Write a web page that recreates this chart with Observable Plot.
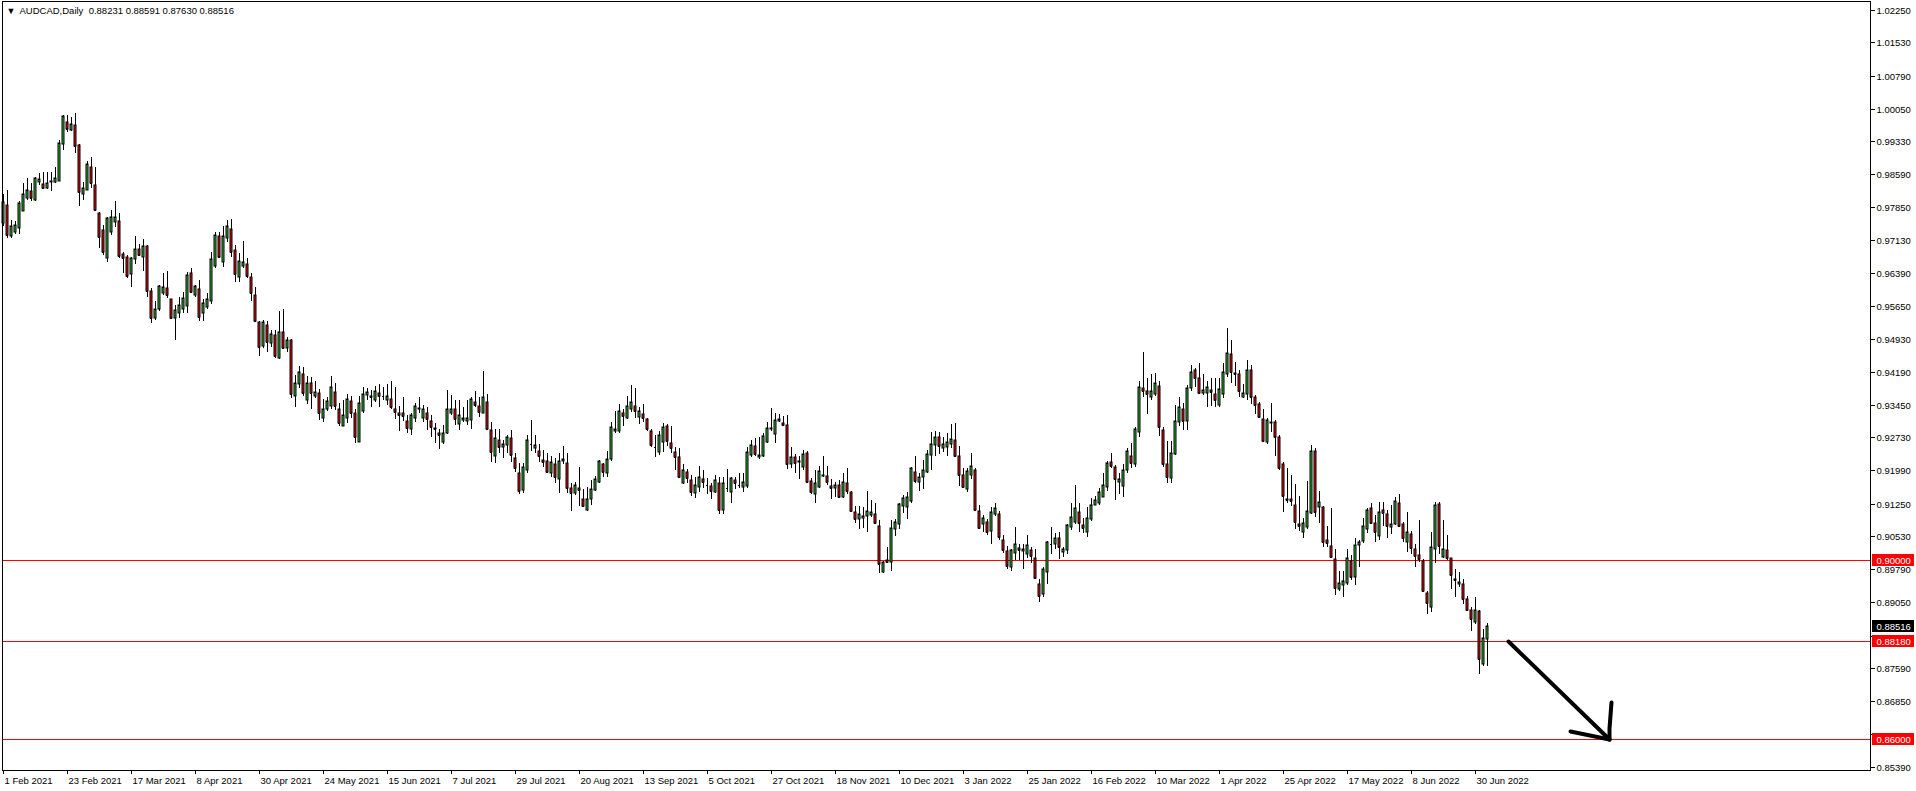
<!DOCTYPE html>
<html><head><meta charset="utf-8">
<script src="https://cdn.jsdelivr.net/npm/d3@7"></script>
<script src="https://cdn.jsdelivr.net/npm/@observablehq/plot@0.6"></script>
<style>
html,body{margin:0;padding:0;background:#fff;}
#chart{width:1916px;height:791px;overflow:hidden;}
</style></head><body><div id="chart"></div>
<script>
const symbolName = "AUDCAD,Daily";
const open = [
0.9750,0.9790,0.9722,0.9730,0.9740,0.9778,0.9807,0.9822,0.9802,0.9842,
0.9837,0.9828,0.9841,0.9841,0.9845,0.9926,0.9975,0.9958,0.9969,0.9924,
0.9815,0.9825,0.9875,0.9835,0.9772,0.9734,0.9672,0.9731,0.9753,0.9756,
0.9682,0.9674,0.9636,0.9670,0.9692,0.9675,0.9699,0.9599,0.9538,0.9558,
0.9595,0.9606,0.9580,0.9538,0.9551,0.9558,0.9566,0.9638,0.9591,0.9603,
0.9551,0.9564,0.9577,0.9655,0.9721,0.9664,0.9716,0.9737,0.9690,0.9631,
0.9655,0.9660,0.9630,0.9591,0.9530,0.9477,0.9524,0.9482,0.9501,0.9450,
0.9508,0.9472,0.9489,0.9365,0.9392,0.9415,0.9355,0.9395,0.9365,0.9371,
0.9317,0.9337,0.9343,0.9373,0.9337,0.9297,0.9317,0.9353,0.9326,0.9263,
0.9332,0.9368,0.9366,0.9357,0.9372,0.9366,0.9356,0.9358,0.9337,0.9326,
0.9326,0.9309,0.9291,0.9317,0.9335,0.9315,0.9326,0.9309,0.9294,0.9282,
0.9262,0.9283,0.9328,0.9337,0.9302,0.9311,0.9310,0.9311,0.9352,0.9342,
0.9328,0.9351,0.9289,0.9231,0.9267,0.9252,0.9255,0.9271,0.9226,0.9193,
0.9155,0.9199,0.9257,0.9248,0.9242,0.9222,0.9221,0.9193,0.9213,0.9179,
0.9220,0.9216,0.9159,0.9148,0.9159,0.9135,0.9111,0.9135,0.9155,0.9174,
0.9213,0.9193,0.9224,0.9288,0.9287,0.9326,0.9315,0.9335,0.9343,0.9319,
0.9325,0.9313,0.9288,0.9252,0.9241,0.9263,0.9297,0.9260,0.9240,0.9229,
0.9172,0.9196,0.9178,0.9148,0.9163,0.9179,0.9167,0.9164,0.9152,0.9172,
0.9112,0.9160,0.9150,0.9178,0.9166,0.9163,0.9164,0.9233,0.9254,0.9228,
0.9231,0.9263,0.9291,0.9280,0.9309,0.9305,0.9301,0.9213,0.9228,0.9218,
0.9206,0.9239,0.9176,0.9146,0.9163,0.9187,0.9187,0.9164,0.9159,0.9167,
0.9139,0.9170,0.9151,0.9106,0.9090,0.9092,0.9098,0.9100,0.9103,0.9075,
0.8973,0.9000,0.8996,0.9068,0.9080,0.9120,0.9118,0.9132,0.9196,0.9174,
0.9184,0.9196,0.9233,0.9256,0.9274,0.9248,0.9252,0.9257,0.9268,0.9231,
0.9190,0.9157,0.9190,0.9201,0.9108,0.9080,0.9084,0.9065,0.9101,0.9103,
0.9045,0.9019,0.8984,0.9016,0.9027,0.9020,0.9014,0.9022,0.9005,0.8945,
0.8924,0.8973,0.9035,0.9035,0.9048,0.9018,0.9022,0.9072,0.9085,0.9107,
0.9077,0.9062,0.9090,0.9123,0.9126,0.9141,0.9163,0.9217,0.9207,0.9174,
0.9164,0.9200,0.9231,0.9213,0.9285,0.9383,0.9376,0.9362,0.9369,0.9387,
0.9289,0.9213,0.9183,0.9236,0.9308,0.9337,0.9310,0.9382,0.9423,0.9404,
0.9371,0.9372,0.9378,0.9369,0.9346,0.9369,0.9415,0.9459,0.9416,0.9415,
0.9362,0.9369,0.9423,0.9362,0.9347,0.9314,0.9263,0.9304,0.9306,0.9274,
0.9213,0.9135,0.9135,0.9123,0.9079,0.9062,0.9072,0.9105,0.9242,0.9117,
0.9117,0.9044,0.9031,0.9001,0.8934,0.8944,0.8949,0.8997,0.8961,0.9033,
0.9042,0.9068,0.9115,0.9081,0.9053,0.9111,0.9103,0.9072,0.9080,0.9126,
0.9080,0.9040,0.9057,0.9025,0.9010,0.8997,0.8925,0.8894,0.9023,0.9124,
0.9007,0.9022,0.9003,0.8958,0.8947,0.8946,0.8912,0.8888,0.8862,0.8886,
0.8768,0.88231];
const high = [
0.9816,0.9825,0.9757,0.9755,0.9799,0.9839,0.9850,0.9839,0.9854,0.9861,
0.9863,0.9863,0.9865,0.9876,0.9935,0.9991,0.9990,0.9987,0.9995,0.9926,
0.9842,0.9888,0.9898,0.9876,0.9774,0.9746,0.9764,0.9779,0.9799,0.9772,
0.9686,0.9679,0.9674,0.9721,0.9703,0.9715,0.9701,0.9606,0.9576,0.9612,
0.9638,0.9643,0.9581,0.9568,0.9586,0.9597,0.9642,0.9651,0.9612,0.9623,
0.9581,0.9594,0.9685,0.9731,0.9730,0.9744,0.9757,0.9759,0.9701,0.9683,
0.9711,0.9672,0.9640,0.9608,0.9532,0.9534,0.9532,0.9512,0.9512,0.9554,
0.9558,0.9497,0.9491,0.9412,0.9432,0.9430,0.9410,0.9408,0.9398,0.9381,
0.9358,0.9363,0.9410,0.9393,0.9350,0.9356,0.9369,0.9365,0.9337,0.9365,
0.9386,0.9382,0.9378,0.9388,0.9392,0.9386,0.9391,0.9398,0.9384,0.9343,
0.9362,0.9323,0.9326,0.9350,0.9362,0.9345,0.9340,0.9323,0.9304,0.9291,
0.9300,0.9378,0.9367,0.9357,0.9355,0.9340,0.9356,0.9362,0.9376,0.9363,
0.9421,0.9369,0.9308,0.9291,0.9291,0.9268,0.9279,0.9289,0.9237,0.9215,
0.9216,0.9278,0.9311,0.9277,0.9258,0.9245,0.9237,0.9231,0.9226,0.9237,
0.9253,0.9237,0.9172,0.9174,0.9207,0.9157,0.9163,0.9178,0.9187,0.9222,
0.9216,0.9242,0.9306,0.9332,0.9347,0.9335,0.9364,0.9390,0.9383,0.9341,
0.9347,0.9317,0.9291,0.9278,0.9287,0.9304,0.9302,0.9297,0.9251,0.9248,
0.9213,0.9202,0.9189,0.9185,0.9208,0.9200,0.9182,0.9170,0.9189,0.9184,
0.9184,0.9202,0.9184,0.9184,0.9194,0.9194,0.9252,0.9268,0.9271,0.9274,
0.9283,0.9306,0.9338,0.9328,0.9325,0.9320,0.9323,0.9251,0.9236,0.9231,
0.9245,0.9243,0.9182,0.9200,0.9209,0.9231,0.9209,0.9179,0.9174,0.9178,
0.9193,0.9204,0.9154,0.9120,0.9120,0.9118,0.9154,0.9133,0.9126,0.9089,
0.8998,0.9029,0.9089,0.9090,0.9127,0.9144,0.9150,0.9207,0.9231,0.9193,
0.9222,0.9245,0.9285,0.9288,0.9285,0.9274,0.9282,0.9302,0.9304,0.9254,
0.9204,0.9204,0.9239,0.9204,0.9122,0.9100,0.9090,0.9118,0.9127,0.9109,
0.9055,0.9031,0.9025,0.9072,0.9036,0.9035,0.9055,0.9029,0.9023,0.8958,
0.8984,0.9042,0.9074,0.9060,0.9062,0.9028,0.9080,0.9127,0.9167,0.9127,
0.9092,0.9117,0.9137,0.9142,0.9159,0.9193,0.9220,0.9239,0.9211,0.9193,
0.9213,0.9248,0.9261,0.9295,0.9398,0.9462,0.9404,0.9415,0.9417,0.9398,
0.9295,0.9265,0.9265,0.9346,0.9362,0.9350,0.9389,0.9434,0.9428,0.9439,
0.9415,0.9398,0.9404,0.9406,0.9404,0.9438,0.9516,0.9490,0.9441,0.9423,
0.9391,0.9445,0.9434,0.9367,0.9352,0.9335,0.9317,0.9349,0.9311,0.9278,
0.9219,0.9204,0.9189,0.9168,0.9142,0.9092,0.9175,0.9256,0.9250,0.9153,
0.9120,0.9075,0.9115,0.9023,0.8976,0.8976,0.9025,0.9010,0.9048,0.9044,
0.9092,0.9115,0.9127,0.9100,0.9129,0.9129,0.9112,0.9122,0.9141,0.9147,
0.9085,0.9107,0.9065,0.9036,0.9089,0.9001,0.8931,0.9062,0.9129,0.9129,
0.9089,0.9055,0.9005,0.8979,0.8973,0.8958,0.8919,0.8895,0.8918,0.8888,
0.8845,0.88591];
const low = [
0.9744,0.9716,0.9716,0.9727,0.9727,0.9778,0.9802,0.9799,0.9799,0.9835,
0.9826,0.9826,0.9822,0.9839,0.9844,0.9913,0.9954,0.9955,0.9906,0.9789,
0.9802,0.9824,0.9828,0.9779,0.9695,0.9680,0.9664,0.9724,0.9742,0.9672,
0.9638,0.9627,0.9608,0.9660,0.9679,0.9644,0.9586,0.9528,0.9534,0.9554,
0.9590,0.9584,0.9538,0.9489,0.9538,0.9551,0.9551,0.9596,0.9586,0.9532,
0.9532,0.9559,0.9569,0.9651,0.9672,0.9653,0.9707,0.9675,0.9620,0.9620,
0.9650,0.9628,0.9576,0.9530,0.9455,0.9472,0.9463,0.9475,0.9450,0.9447,
0.9471,0.9463,0.9361,0.9340,0.9382,0.9365,0.9347,0.9335,0.9360,0.9311,
0.9308,0.9332,0.9337,0.9334,0.9297,0.9297,0.9304,0.9315,0.9261,0.9263,
0.9328,0.9356,0.9340,0.9352,0.9341,0.9356,0.9345,0.9337,0.9313,0.9288,
0.9310,0.9283,0.9277,0.9308,0.9328,0.9306,0.9289,0.9274,0.9261,0.9246,
0.9257,0.9280,0.9323,0.9300,0.9289,0.9308,0.9300,0.9291,0.9341,0.9319,
0.9328,0.9289,0.9217,0.9216,0.9237,0.9226,0.9237,0.9219,0.9196,0.9146,
0.9148,0.9193,0.9243,0.9239,0.9219,0.9207,0.9193,0.9184,0.9172,0.9149,
0.9213,0.9149,0.9109,0.9144,0.9120,0.9118,0.9109,0.9122,0.9153,0.9170,
0.9184,0.9185,0.9220,0.9283,0.9282,0.9297,0.9313,0.9330,0.9317,0.9303,
0.9306,0.9288,0.9252,0.9230,0.9234,0.9241,0.9254,0.9237,0.9199,0.9182,
0.9169,0.9170,0.9142,0.9138,0.9150,0.9161,0.9147,0.9135,0.9148,0.9103,
0.9103,0.9150,0.9127,0.9157,0.9161,0.9150,0.9161,0.9230,0.9231,0.9225,
0.9230,0.9260,0.9288,0.9260,0.9306,0.9297,0.9202,0.9204,0.9194,0.9179,
0.9200,0.9170,0.9147,0.9126,0.9161,0.9184,0.9167,0.9136,0.9139,0.9137,
0.9137,0.9147,0.9107,0.9083,0.9068,0.9070,0.9063,0.9096,0.9081,0.8970,
0.8971,0.8992,0.8976,0.9053,0.9068,0.9105,0.9090,0.9127,0.9172,0.9154,
0.9157,0.9194,0.9200,0.9231,0.9235,0.9241,0.9231,0.9248,0.9230,0.9165,
0.9161,0.9152,0.9179,0.9109,0.9068,0.9062,0.9055,0.9035,0.9097,0.9044,
0.9016,0.8979,0.8976,0.8999,0.8999,0.8979,0.9005,0.8993,0.8958,0.8906,
0.8918,0.8947,0.9014,0.9023,0.9001,0.9007,0.9014,0.9066,0.9080,0.9062,
0.9059,0.9051,0.9087,0.9122,0.9122,0.9139,0.9154,0.9205,0.9133,0.9146,
0.9141,0.9193,0.9204,0.9207,0.9274,0.9363,0.9325,0.9357,0.9365,0.9276,
0.9207,0.9172,0.9170,0.9233,0.9298,0.9289,0.9289,0.9377,0.9386,0.9371,
0.9367,0.9340,0.9343,0.9340,0.9340,0.9361,0.9408,0.9393,0.9387,0.9363,
0.9360,0.9356,0.9347,0.9324,0.9315,0.9265,0.9259,0.9285,0.9232,0.9200,
0.9107,0.9127,0.9120,0.9068,0.9065,0.9048,0.9068,0.9102,0.9096,0.9083,
0.9029,0.9029,0.9005,0.8921,0.8931,0.8916,0.8944,0.8955,0.8944,0.8984,
0.9038,0.9060,0.9080,0.9040,0.9045,0.9075,0.9048,0.9057,0.9077,0.9072,
0.9039,0.9018,0.9014,0.8983,0.8994,0.8929,0.8880,0.8884,0.8993,0.9014,
0.9005,0.8999,0.8936,0.8918,0.8940,0.8901,0.8886,0.8842,0.8858,0.8745,
0.8763,0.87630];
const close = [
0.9798,0.9724,0.9744,0.9746,0.9796,0.9815,0.9824,0.9807,0.9850,0.9848,
0.9829,0.9839,0.9844,0.9850,0.9928,0.9989,0.9961,0.9970,0.9923,0.9820,
0.9829,0.9881,0.9839,0.9779,0.9720,0.9686,0.9761,0.9763,0.9763,0.9677,
0.9673,0.9633,0.9672,0.9692,0.9680,0.9699,0.9599,0.9538,0.9558,0.9610,
0.9607,0.9590,0.9539,0.9556,0.9568,0.9584,0.9634,0.9597,0.9611,0.9542,
0.9573,0.9581,0.9670,0.9724,0.9674,0.9722,0.9744,0.9686,0.9636,0.9666,
0.9663,0.9633,0.9594,0.9533,0.9475,0.9529,0.9486,0.9502,0.9455,0.9508,
0.9472,0.9489,0.9369,0.9395,0.9419,0.9371,0.9393,0.9372,0.9373,0.9326,
0.9337,0.9354,0.9384,0.9343,0.9304,0.9322,0.9358,0.9328,0.9274,0.9349,
0.9369,0.9373,0.9362,0.9375,0.9365,0.9365,0.9366,0.9340,0.9329,0.9323,
0.9320,0.9293,0.9323,0.9343,0.9338,0.9335,0.9313,0.9295,0.9291,0.9277,
0.9282,0.9336,0.9337,0.9313,0.9323,0.9316,0.9315,0.9358,0.9346,0.9329,
0.9362,0.9291,0.9241,0.9271,0.9251,0.9259,0.9274,0.9233,0.9204,0.9154,
0.9206,0.9267,0.9259,0.9256,0.9231,0.9219,0.9196,0.9219,0.9185,0.9221,
0.9225,0.9159,0.9148,0.9167,0.9155,0.9120,0.9135,0.9157,0.9180,0.9220,
0.9196,0.9224,0.9295,0.9291,0.9331,0.9321,0.9343,0.9351,0.9331,0.9331,
0.9316,0.9291,0.9256,0.9251,0.9277,0.9295,0.9265,0.9248,0.9230,0.9185,
0.9200,0.9182,0.9150,0.9167,0.9185,0.9173,0.9167,0.9154,0.9178,0.9112,
0.9172,0.9161,0.9182,0.9170,0.9167,0.9173,0.9240,0.9255,0.9235,0.9234,
0.9276,0.9294,0.9294,0.9312,0.9314,0.9300,0.9213,0.9228,0.9215,0.9221,
0.9236,0.9174,0.9150,0.9170,0.9198,0.9189,0.9174,0.9161,0.9167,0.9139,
0.9173,0.9154,0.9109,0.9090,0.9101,0.9098,0.9109,0.9106,0.9083,0.8991,
0.8996,0.8994,0.9070,0.9084,0.9124,0.9137,0.9139,0.9204,0.9176,0.9184,
0.9201,0.9236,0.9259,0.9274,0.9254,0.9257,0.9262,0.9269,0.9231,0.9190,
0.9163,0.9198,0.9209,0.9112,0.9071,0.9094,0.9062,0.9107,0.9115,0.9050,
0.9022,0.8986,0.9022,0.9035,0.9022,0.9025,0.9032,0.9009,0.8960,0.8919,
0.8979,0.9039,0.9036,0.9048,0.9028,0.9023,0.9077,0.9096,0.9115,0.9083,
0.9070,0.9092,0.9123,0.9133,0.9150,0.9167,0.9215,0.9209,0.9181,0.9181,
0.9200,0.9242,0.9215,0.9291,0.9384,0.9377,0.9369,0.9375,0.9393,0.9295,
0.9213,0.9185,0.9239,0.9309,0.9341,0.9310,0.9382,0.9418,0.9404,0.9372,
0.9378,0.9384,0.9373,0.9357,0.9380,0.9418,0.9460,0.9419,0.9415,0.9375,
0.9371,0.9423,0.9363,0.9346,0.9319,0.9265,0.9311,0.9308,0.9273,0.9205,
0.9143,0.9133,0.9132,0.9085,0.9076,0.9081,0.9109,0.9242,0.9106,0.9128,
0.9039,0.9038,0.9007,0.8938,0.8949,0.8953,0.9003,0.8962,0.9034,0.9040,
0.9075,0.9111,0.9083,0.9062,0.9106,0.9105,0.9076,0.9080,0.9131,0.9076,
0.9048,0.9061,0.9027,0.9009,0.9001,0.8931,0.8903,0.9028,0.9122,0.9031,
0.9025,0.9005,0.8966,0.8956,0.8950,0.8912,0.8889,0.8869,0.8888,0.8778,
0.8825,0.88516];

const xTickIndex = [0,16,32,48,64,80,96,112,128,144,160,176,192,208,224,240,256,272,288,304,320,336,352,368];
const xTickLabels = ["1 Feb 2021","23 Feb 2021","17 Mar 2021","8 Apr 2021","30 Apr 2021","24 May 2021","15 Jun 2021","7 Jul 2021","29 Jul 2021","20 Aug 2021","13 Sep 2021","5 Oct 2021","27 Oct 2021","18 Nov 2021","10 Dec 2021","3 Jan 2022","25 Jan 2022","16 Feb 2022","10 Mar 2022","1 Apr 2022","25 Apr 2022","17 May 2022","8 Jun 2022","30 Jun 2022"];
const yTickValues = [1.0225,1.0153,1.0079,1.0005,0.9933,0.9859,0.9785,0.9713,0.9639,0.9565,0.9493,0.9419,0.9345,0.9273,0.9199,0.9125,0.9053,0.8979,0.8905,0.8831,0.8759,0.8685,0.8611,0.8539];
const yTicksCovered = [0.8831, 0.8611];
const levelPrices = [0.9000, 0.8818, 0.8600];
const lastPrice = 0.88516;
const arrowSeg = ["shaft","shaft","head1","head1","head2","head2","head2"];
const arrowX = [376.2, 401.4, 391.8, 401.4, 402.0, 401.6, 401.4];
const arrowY = [0.8818, 0.8600, 0.8618, 0.8600, 0.8684, 0.8625, 0.8600];

const candles = open.map((o, i) => ({i, o, h: high[i], l: low[i], c: close[i], up: close[i] >= o}));
const arrow = arrowX.map((x, j) => ({x, y: arrowY[j], seg: arrowSeg[j]}));
const ticks = xTickIndex.map((x, j) => ({x, label: xTickLabels[j]}));

const xDomain = [-0.25, 466.75];
const yDomain = [0.85316, 1.02451];
const FONT = "'Liberation Sans', Arial, sans-serif";
const bull = "#32b432", bear = "#e01010";
const last = candles[candles.length - 1];
const title = `${symbolName}  ${last.o.toFixed(5)} ${last.h.toFixed(5)} ${last.l.toFixed(5)} ${last.c.toFixed(5)}`;

const chart = Plot.plot({
  width: 1916, height: 791,
  marginLeft: 2, marginRight: 46, marginTop: 1, marginBottom: 21,
  x: {type: "linear", domain: xDomain, round: true, ticks: xTickIndex, tickFormat: () => "", tickSize: 4, label: null},
  y: {type: "linear", domain: yDomain, round: true, axis: "right", ticks: yTickValues,
      tickFormat: d => yTicksCovered.includes(d) ? "" : d.toFixed(5), tickSize: 4, tickPadding: 2, label: null},
  style: {background: "#fff", fontFamily: FONT, fontSize: "9.5px", color: "#000", overflow: "visible"},
  marks: [
    Plot.ruleY(levelPrices, {y: d => d, stroke: "#ff0000", strokeWidth: 1}),
    Plot.ruleX(candles, {x: "i", y1: "l", y2: "h", stroke: "#000", strokeWidth: 1}),
    Plot.rect(candles, {x1: d => d.i - 0.25, x2: d => d.i + 0.25, y1: "o", y2: "c", fill: d => d.up ? bull : bear, stroke: "#000", strokeWidth: 1}),
    Plot.ruleY(candles, {y: "c", x1: d => d.i - 0.25, x2: d => d.i + 0.25, stroke: "#000", strokeWidth: 1}),
    Plot.line(arrow, {x: "x", y: "y", z: "seg", stroke: "#000", strokeWidth: 4, strokeLinecap: "round", strokeLinejoin: "round"}),
    Plot.frame({stroke: "#000"}),
    Plot.text(ticks, {x: "x", y: yDomain[0], text: "label", textAnchor: "start", dx: 1, dy: 10, fill: "#000"}),
    Plot.rect([lastPrice], {x1: xDomain[1], x2: xDomain[1], y1: d => d, y2: d => d, insetLeft: 2, insetRight: -44, insetTop: -6, insetBottom: -6, fill: "#000"}),
    Plot.text([lastPrice], {x: xDomain[1], y: d => d, text: d => d.toFixed(5), textAnchor: "start", dx: 6, fill: "#fff"}),
    Plot.rect(levelPrices, {x1: xDomain[1], x2: xDomain[1], y1: d => d, y2: d => d, insetLeft: 2, insetRight: -44, insetTop: -6, insetBottom: -6, fill: "#ff0000"}),
    Plot.text(levelPrices, {x: xDomain[1], y: d => d, text: d => d.toFixed(5), textAnchor: "start", dx: 6, fill: "#fff"}),
    Plot.text([title], {frameAnchor: "top-left", lineAnchor: "top", text: d => d, textAnchor: "start", dx: 17, dy: 6, fill: "#000"}),
    Plot.text(["▼"], {frameAnchor: "top-left", lineAnchor: "top", text: d => d, textAnchor: "start", dx: 4, dy: 6, fontSize: 9, fill: "#000"})
  ]
});
document.getElementById("chart").appendChild(chart);
</script>
</body></html>
